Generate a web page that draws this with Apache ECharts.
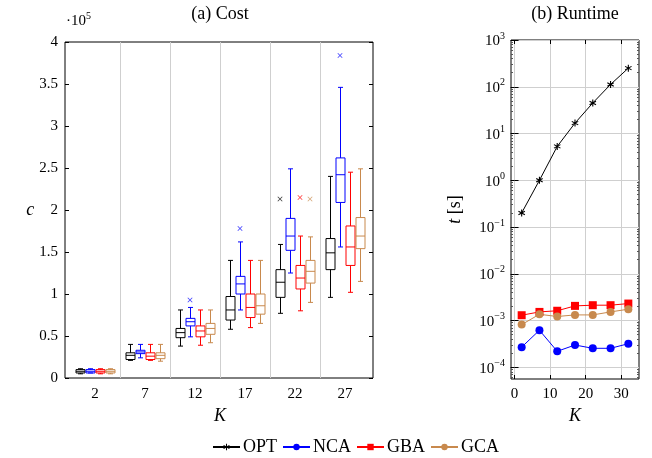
<!DOCTYPE html>
<html>
<head>
<meta charset="utf-8">
<script src="https://cdn.jsdelivr.net/npm/echarts@6/dist/echarts.min.js"></script>
<style>
  html, body { margin: 0; padding: 0; background: #fff; }
  #chart { width: 652px; height: 458px; }
</style>
</head>
<body>
<div id="chart"></div>
<script>
/* (a) Cost boxplots and (b) Runtime log plot */
var FONT = 'Liberation Serif';

// cost in units of 1e5, each entry [min, q1, median, q3, max]
var categories = ['2', '7', '12', '17', '22', '27'];
var optCost = [[0.05, 0.06, 0.08, 0.10, 0.11], [0.21, 0.22, 0.27, 0.30, 0.40], [0.38, 0.48, 0.54, 0.59, 0.81],
               [0.58, 0.69, 0.81, 0.97, 1.40], [0.77, 0.96, 1.14, 1.29, 1.59], [0.96, 1.29, 1.49, 1.66, 2.40]];
var ncaCost = [[0.06, 0.06, 0.08, 0.10, 0.11], [0.24, 0.29, 0.31, 0.33, 0.40], [0.49, 0.62, 0.67, 0.71, 0.84],
               [0.81, 1.00, 1.12, 1.21, 1.62], [1.25, 1.52, 1.69, 1.90, 2.49], [1.56, 2.09, 2.42, 2.62, 3.46]];
var gbaCost = [[0.05, 0.06, 0.08, 0.10, 0.11], [0.21, 0.22, 0.26, 0.30, 0.40], [0.39, 0.49, 0.56, 0.62, 0.81],
               [0.60, 0.72, 0.84, 1.00, 1.40], [0.80, 1.06, 1.19, 1.34, 1.69], [1.02, 1.34, 1.56, 1.81, 2.45]];
var gcaCost = [[0.05, 0.06, 0.08, 0.10, 0.11], [0.20, 0.23, 0.27, 0.30, 0.40], [0.42, 0.52, 0.59, 0.65, 0.81],
               [0.65, 0.76, 0.86, 1.00, 1.40], [0.90, 1.13, 1.27, 1.40, 1.68], [1.15, 1.54, 1.69, 1.91, 2.49]];

// outliers [category index, value]
var optOutliers = [[4, 2.13]];
var ncaOutliers = [[2, 0.93], [3, 1.78], [5, 3.84]];
var gbaOutliers = [[4, 2.15]];
var gcaOutliers = [[4, 2.13]];

// runtime in seconds
var kRuntime = [2, 7, 12, 17, 22, 27, 32];
var optTime = [0.2, 1.0, 5.3, 16.7, 45, 112, 250];
var ncaTime = [2.7e-4, 6.2e-4, 2.2e-4, 3.0e-4, 2.55e-4, 2.55e-4, 3.2e-4];
var gbaTime = [1.30e-3, 1.53e-3, 1.62e-3, 2.06e-3, 2.13e-3, 2.13e-3, 2.31e-3];
var gcaTime = [0.82e-3, 1.36e-3, 1.22e-3, 1.32e-3, 1.32e-3, 1.53e-3, 1.75e-3];

var costTicks = [0, 10, 20, 30];
var logMajor = [1e-4, 1e-3, 1e-2, 1e-1, 1, 10, 100, 1000];

var colOPT = '#000000', colNCA = '#0000ff', colGBA = '#ff0000', colGCA = '#c8894d';

var asterisk = 'path://M-15,-100L15,-100L15,100L-15,100Z M-94,-37L-79,-63L94,37L79,63Z M79,-63L94,-37L-79,63L-94,37Z';
var cross = 'path://M0,1L1,0L5,4L9,0L10,1L6,5L10,9L9,10L5,6L1,10L0,9L4,5Z';

// minor tick positions for the log axis
var logMinor = [];
for (var e = -5; e < 3; e++) {
    for (var m = 2; m < 10; m++) logMinor.push(m * Math.pow(10, e));
}

function zip(xs, ys) {
    return xs.map(function (x, i) { return [x, ys[i]]; });
}

function boxData(arr) {
    return arr.map(function (d, i) { return [i].concat(d); });
}

/* draws one box with whiskers, slot picks the offset inside the category */
function boxRenderer(slot, color) {
    return function (params, api) {
        var cat = api.value(0);
        var band = api.size([1, 0])[0];
        var x = Math.round(api.coord([cat, 0])[0] + (slot - 1.5) * band * 0.2) + 0.5;
        var half = band * 0.09, cap = band * 0.05;
        var yMin = api.coord([cat, api.value(1)])[1];
        var yQ1 = api.coord([cat, api.value(2)])[1];
        var yMed = api.coord([cat, api.value(3)])[1];
        var yQ3 = api.coord([cat, api.value(4)])[1];
        var yMax = api.coord([cat, api.value(5)])[1];
        var st = { stroke: color, lineWidth: 1, fill: 'none' };
        return {
            type: 'group',
            children: [
                { type: 'line', shape: { x1: x, y1: yMin, x2: x, y2: yQ1 }, style: st },
                { type: 'line', shape: { x1: x, y1: yQ3, x2: x, y2: yMax }, style: st },
                { type: 'line', shape: { x1: x - cap, y1: yMin, x2: x + cap, y2: yMin }, style: st },
                { type: 'line', shape: { x1: x - cap, y1: yMax, x2: x + cap, y2: yMax }, style: st },
                { type: 'rect', shape: { x: x - half, y: yQ3, width: 2 * half, height: yQ1 - yQ3 }, style: st },
                { type: 'line', shape: { x1: x - half, y1: yMed, x2: x + half, y2: yMed }, style: st }
            ]
        };
    };
}

function boxSeries(slot, color, arr) {
    return {
        type: 'custom', xAxisIndex: 1, yAxisIndex: 2, silent: true, z: 3,
        renderItem: boxRenderer(slot, color),
        encode: { x: 0, y: [1, 2, 3, 4, 5] },
        data: boxData(arr)
    };
}

function outlierSeries(slot, color, arr) {
    return {
        type: 'scatter', xAxisIndex: 1, yAxisIndex: 2, silent: true, z: 4,
        symbol: cross, symbolSize: 5, symbolOffset: [(slot - 1.5) * 10, 0],
        itemStyle: { color: color },
        data: arr
    };
}

function lineSeries(name, color, symbol, size, values) {
    return {
        name: name, type: 'line', xAxisIndex: 2, yAxisIndex: 3, z: 5,
        symbol: symbol, symbolSize: size, showSymbol: true,
        lineStyle: { color: color, width: 1 },
        itemStyle: { color: color },
        data: zip(kRuntime, values)
    };
}

function supLabel(v) {
    var ex = Math.round(Math.log10(v));
    return '{b|10}{e|' + (ex < 0 ? '\u2212' + (-ex) : ex) + '}';
}

var labelFont = { fontFamily: FONT, fontSize: 15, color: '#000' };
var nameFont = { fontFamily: FONT, fontSize: 18, fontStyle: 'italic', color: '#000' };
var gridLine = { show: true, lineStyle: { color: '#cfcfcf', width: 1 } };

var chart = echarts.init(document.getElementById('chart'));

var option = {
    animation: false,
    backgroundColor: '#fff',
    grid: [
        { left: 65, right: 279, top: 42, bottom: 80, show: true, borderColor: '#000', borderWidth: 1 },
        { left: 70, right: 282, top: 42, bottom: 80 },
        { left: 511, right: 13, top: 40, bottom: 79, show: true, borderColor: '#000', borderWidth: 1 }
    ],
    xAxis: [
        { gridIndex: 0, type: 'value', min: 0, max: 1, show: false },
        {
            gridIndex: 1, type: 'category', data: categories,
            axisLine: { show: false }, axisTick: { show: false },
            axisLabel: Object.assign({ interval: 0, margin: 9 }, labelFont),
            splitLine: { show: true, interval: 0, showMinLine: false, showMaxLine: false, lineStyle: { color: '#cfcfcf' } },
            name: 'K', nameLocation: 'middle', nameGap: 27, nameTextStyle: nameFont
        },
        {
            gridIndex: 2, type: 'value', min: -1, max: 35,
            axisLine: { show: false },
            axisTick: { show: true, inside: true, length: 4, customValues: costTicks, lineStyle: { color: '#000' } },
            axisLabel: Object.assign({ customValues: costTicks, margin: 8 }, labelFont),
            splitLine: gridLine,
            name: 'K', nameLocation: 'middle', nameGap: 28, nameTextStyle: nameFont
        },
        {
            gridIndex: 2, type: 'value', min: -1, max: 35, position: 'top',
            axisLine: { show: false },
            axisTick: { show: true, inside: true, length: 4, customValues: costTicks, lineStyle: { color: '#000' } },
            axisLabel: { show: false }, splitLine: { show: false }
        }
    ],
    yAxis: [
        {
            gridIndex: 0, type: 'value', min: 0, max: 4, interval: 0.5,
            axisLine: { show: false },
            axisTick: { show: true, inside: true, length: 4, lineStyle: { color: '#000' } },
            axisLabel: Object.assign({ margin: 7 }, labelFont),
            splitLine: { show: false },
            name: 'c', nameLocation: 'middle', nameGap: 28, nameRotate: 0, nameTextStyle: nameFont
        },
        {
            gridIndex: 0, type: 'value', min: 0, max: 4, interval: 0.5, position: 'right',
            axisLine: { show: false },
            axisTick: { show: true, inside: true, length: 4, lineStyle: { color: '#000' } },
            axisLabel: { show: false }, splitLine: { show: false }
        },
        { gridIndex: 1, type: 'value', min: 0, max: 4, show: false },
        {
            gridIndex: 2, type: 'log', logBase: 10, min: Math.pow(10, -4.25), max: 1000,
            axisLine: { show: false },
            axisTick: { show: true, inside: true, length: 4, customValues: logMajor, lineStyle: { color: '#000' } },
            axisLabel: {
                customValues: logMajor, margin: 6, formatter: supLabel,
                rich: {
                    b: { fontFamily: FONT, fontSize: 15, color: '#000', lineHeight: 18, verticalAlign: 'bottom' },
                    e: { fontFamily: FONT, fontSize: 10, color: '#000', lineHeight: 18, verticalAlign: 'top', padding: [0, 0, 8, 0] }
                }
            },
            splitLine: gridLine,
            name: '{i|t} [s]', nameLocation: 'middle', nameGap: 47, nameRotate: 90,
            nameTextStyle: {
                fontFamily: FONT, fontSize: 18, color: '#000',
                rich: { i: { fontFamily: FONT, fontSize: 18, fontStyle: 'italic', color: '#000' } }
            }
        },
        {
            gridIndex: 2, type: 'log', logBase: 10, min: Math.pow(10, -4.25), max: 1000, position: 'right',
            axisLine: { show: false },
            axisTick: { show: true, inside: true, length: 4, customValues: logMajor, lineStyle: { color: '#000' } },
            axisLabel: { show: false }, splitLine: { show: false }
        },
        {
            gridIndex: 2, type: 'log', logBase: 10, min: Math.pow(10, -4.25), max: 1000, position: 'left', offset: 0,
            axisLine: { show: false },
            axisTick: { show: true, inside: true, length: 2, customValues: logMinor, lineStyle: { color: '#555' } },
            axisLabel: { show: false }, splitLine: { show: false }
        },
        {
            gridIndex: 2, type: 'log', logBase: 10, min: Math.pow(10, -4.25), max: 1000, position: 'right', offset: 0,
            axisLine: { show: false },
            axisTick: { show: true, inside: true, length: 2, customValues: logMinor, lineStyle: { color: '#555' } },
            axisLabel: { show: false }, splitLine: { show: false }
        }
    ],
    legend: {
        data: ['OPT', 'NCA', 'GBA', 'GCA'],
        left: 207, top: 433,
        itemWidth: 27, itemHeight: 8, itemGap: 5,
        textStyle: { fontFamily: FONT, fontSize: 18, color: '#000', padding: [0, 0, 0, -2] }
    },
    graphic: [
        { type: 'text', x: 220, y: 14, style: { text: '(a) Cost', font: '18px "Liberation Serif"', fill: '#000', align: 'center', verticalAlign: 'middle' } },
        { type: 'text', x: 575, y: 14, style: { text: '(b) Runtime', font: '18px "Liberation Serif"', fill: '#000', align: 'center', verticalAlign: 'middle' } },
        {
            type: 'text', x: 66, y: 11,
            style: {
                text: '{b|\u00b710}{e|5}',
                rich: {
                    b: { fontFamily: FONT, fontSize: 15, fill: '#000', lineHeight: 18, verticalAlign: 'bottom' },
                    e: { fontFamily: FONT, fontSize: 10, fill: '#000', lineHeight: 18, verticalAlign: 'top', padding: [0, 0, 8, 0] }
                }
            }
        }
    ],
    series: [
        boxSeries(0, colOPT, optCost),
        boxSeries(1, colNCA, ncaCost),
        boxSeries(2, colGBA, gbaCost),
        boxSeries(3, colGCA, gcaCost),
        outlierSeries(0, colOPT, optOutliers),
        outlierSeries(1, colNCA, ncaOutliers),
        outlierSeries(2, colGBA, gbaOutliers),
        outlierSeries(3, colGCA, gcaOutliers),
        lineSeries('OPT', colOPT, asterisk, 7, optTime),
        lineSeries('NCA', colNCA, 'circle', 8, ncaTime),
        lineSeries('GBA', colGBA, 'rect', 8, gbaTime),
        lineSeries('GCA', colGCA, 'circle', 8, gcaTime)
    ]
};

chart.setOption(option);
</script>
</body>
</html>
